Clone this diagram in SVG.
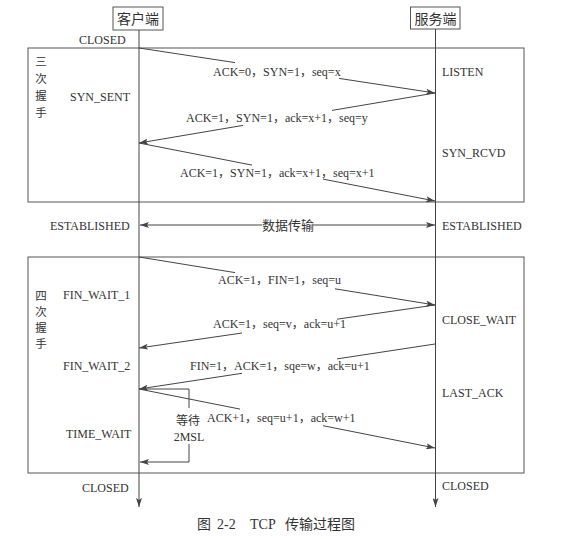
<svg xmlns="http://www.w3.org/2000/svg" width="581" height="539" viewBox="0 0 581 539">
<style>
text{font-family:"Liberation Serif","Noto Sans CJK SC",serif;fill:#333;font-size:12px}
.cjk{font-family:"Noto Sans CJK SC",sans-serif}
.hd{font-size:14px;text-anchor:middle}
.vt{font-size:11.5px;text-anchor:middle}
.dt{font-size:13px}
.cap{font-size:14px}
.ln{stroke:#444;stroke-width:1;fill:none}
.box{stroke:#555;stroke-width:1;fill:none}
</style>
<defs>
<marker id="ah" markerWidth="9" markerHeight="6" refX="9" refY="3" orient="auto" markerUnits="userSpaceOnUse">
<path d="M0,0 L9,3 L0,6 L2,3 z" fill="#444"/>
</marker>
</defs>
<rect width="581" height="539" fill="#fff"/>

<g id="client">
<rect class="box" x="113" y="7" width="50" height="23" fill="#fff"/>
<text class="hd cjk" x="138" y="24">客户端</text>
</g>
<g id="server">
<rect class="box" x="410.5" y="7" width="49.5" height="22" fill="#fff"/>
<text class="hd cjk" x="435.5" y="24">服务端</text>
</g>

<g id="handshake3">
<rect class="box" x="28" y="48" width="496" height="154"/>
<text class="cjk vt"><tspan x="41" y="66">三</tspan><tspan x="41" y="83">次</tspan><tspan x="41" y="100">握</tspan><tspan x="41" y="117">手</tspan></text>
</g>
<g id="handshake4">
<rect class="box" x="28" y="257" width="496" height="216"/>
<text class="cjk vt"><tspan x="41" y="300">四</tspan><tspan x="41" y="316">次</tspan><tspan x="41" y="332">握</tspan><tspan x="41" y="348">手</tspan></text>
</g>

<g id="states">
<text x="79" y="44">CLOSED</text>
<text x="70" y="101">SYN_SENT</text>
<text x="442" y="76">LISTEN</text>
<text x="442" y="157">SYN_RCVD</text>
<text x="50" y="230">ESTABLISHED</text>
<text x="442" y="230">ESTABLISHED</text>
<text x="63" y="299">FIN_WAIT_1</text>
<text x="442" y="324">CLOSE_WAIT</text>
<text x="63" y="370">FIN_WAIT_2</text>
<text x="442" y="397">LAST_ACK</text>
<text x="66" y="438">TIME_WAIT</text>
<text x="82" y="492">CLOSED</text>
<text x="442" y="490">CLOSED</text>
</g>

<g id="connectors">
<line class="ln" x1="139" y1="30" x2="139" y2="507" marker-end="url(#ah)"/>
<line class="ln" x1="435.5" y1="29" x2="435.5" y2="507" marker-end="url(#ah)"/>

<line class="ln" x1="139" y1="48" x2="235" y2="62.6"/>
<line class="ln" x1="339" y1="78.4" x2="435" y2="93" marker-end="url(#ah)"/>

<line class="ln" x1="435" y1="93" x2="332" y2="110.4"/>
<line class="ln" x1="243" y1="125.4" x2="139" y2="143" marker-end="url(#ah)"/>

<line class="ln" x1="139" y1="143" x2="252" y2="165.1"/>
<line class="ln" x1="323" y1="179.1" x2="435" y2="201" marker-end="url(#ah)"/>

<line class="ln" x1="262" y1="225" x2="140" y2="225" marker-end="url(#ah)"/>
<line class="ln" x1="313" y1="225" x2="435" y2="225" marker-end="url(#ah)"/>

<line class="ln" x1="139" y1="257" x2="235" y2="272.6"/>
<line class="ln" x1="335" y1="288.8" x2="435" y2="305" marker-end="url(#ah)"/>

<line class="ln" x1="435" y1="305" x2="337" y2="319.2"/>
<line class="ln" x1="242" y1="333" x2="139" y2="348" marker-end="url(#ah)"/>

<line class="ln" x1="435" y1="344" x2="337" y2="358.9"/>
<line class="ln" x1="242" y1="373.3" x2="139" y2="389" marker-end="url(#ah)"/>

<line class="ln" x1="139" y1="389" x2="240" y2="409.1"/>
<line class="ln" x1="323" y1="425.7" x2="435" y2="448" marker-end="url(#ah)"/>

<polyline class="ln" points="140,389 189,389 189,408"/>
<polyline class="ln" points="189,444 189,462 140,462" marker-end="url(#ah)"/>
</g>

<g id="labels">
<text x="213" y="76">ACK=0，SYN=1，seq=x</text>
<text x="186" y="122">ACK=1，SYN=1，ack=x+1，seq=y</text>
<text x="180" y="177">ACK=1，SYN=1，ack=x+1，seq=x+1</text>
<text class="cjk dt" x="262" y="230">数据传输</text>
<text x="218" y="284">ACK=1，FIN=1，seq=u</text>
<text x="213" y="328">ACK=1，seq=v，ack=u+1</text>
<text x="190" y="370">FIN=1，ACK=1，sqe=w，ack=u+1</text>
<text x="207" y="422">ACK+1，seq=u+1，ack=w+1</text>
<text class="cjk" x="188" y="425" text-anchor="middle">等待</text>
<text x="189" y="441" text-anchor="middle">2MSL</text>
</g>

<g id="caption">
<text class="cap" y="529"><tspan class="cjk" x="197">图</tspan><tspan x="217">2-2</tspan><tspan x="250">TCP</tspan><tspan class="cjk" x="285">传输过程图</tspan></text>
</g>
</svg>
